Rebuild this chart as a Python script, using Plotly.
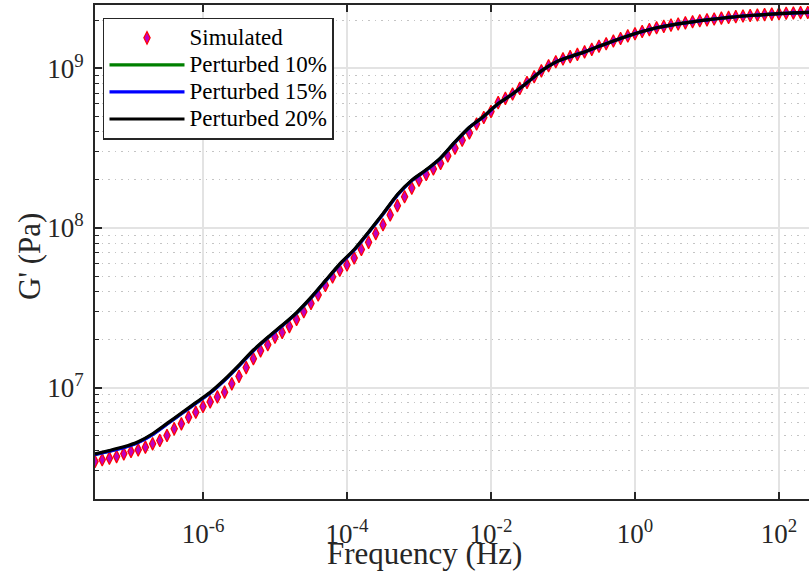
import numpy as np
import plotly.graph_objects as go

# ---------------- data ----------------
# log10 of frequency (Hz) for the simulated points
sim_log_f = [
    -7.5, -7.4, -7.3, -7.2, -7.1, -7.0, -6.9, -6.8, -6.7, -6.6,
    -6.5, -6.4, -6.3, -6.2, -6.1, -6.0, -5.9, -5.8, -5.7, -5.6,
    -5.5, -5.4, -5.3, -5.2, -5.1, -5.0, -4.9, -4.8, -4.7, -4.6,
    -4.5, -4.4, -4.3, -4.2, -4.1, -4.0, -3.9, -3.8, -3.7, -3.6,
    -3.5, -3.4, -3.3, -3.2, -3.1, -3.0, -2.9, -2.8, -2.7, -2.6,
    -2.5, -2.4, -2.3, -2.2, -2.1, -2.0, -1.9, -1.8, -1.7, -1.6,
    -1.5, -1.4, -1.3, -1.2, -1.1, -1.0, -0.9, -0.8, -0.7, -0.6,
    -0.5, -0.4, -0.3, -0.2, -0.1, 0.0, 0.1, 0.2, 0.3, 0.4,
    0.5, 0.6, 0.7, 0.8, 0.9, 1.0, 1.1, 1.2, 1.3, 1.4,
    1.5, 1.6, 1.7, 1.8, 1.9, 2.0, 2.1, 2.2, 2.3, 2.4,
]
# log10 of simulated G' (Pa)
sim_log_G = [
    6.536, 6.547, 6.557, 6.567, 6.584, 6.599, 6.609, 6.626, 6.647, 6.668,
    6.699, 6.741, 6.772, 6.814, 6.845, 6.881, 6.910, 6.941, 6.971, 7.023,
    7.070, 7.125, 7.180, 7.230, 7.268, 7.316, 7.345, 7.382, 7.427, 7.475,
    7.527, 7.580, 7.640, 7.693, 7.735, 7.768, 7.812, 7.865, 7.910, 7.965,
    8.020, 8.082, 8.140, 8.196, 8.250, 8.300, 8.335, 8.370, 8.405, 8.452,
    8.500, 8.550, 8.596, 8.652, 8.693, 8.730, 8.786, 8.813, 8.840, 8.875,
    8.912, 8.948, 8.985, 9.017, 9.042, 9.060, 9.074, 9.088, 9.104, 9.120,
    9.139, 9.155, 9.172, 9.188, 9.204, 9.218, 9.232, 9.244, 9.255, 9.264,
    9.272, 9.279, 9.286, 9.293, 9.299, 9.305, 9.310, 9.316, 9.320, 9.325,
    9.329, 9.332, 9.335, 9.338, 9.341, 9.344, 9.346, 9.348, 9.350, 9.351,
]

# log10 of frequency (Hz) for the perturbed curves
pert_log_f = [
    -7.5, -7.3, -7.1, -6.9, -6.7, -6.5, -6.3, -6.1, -5.9, -5.7,
    -5.5, -5.3, -5.1, -4.9, -4.7, -4.5, -4.3, -4.1, -3.9, -3.7,
    -3.5, -3.3, -3.1, -2.9, -2.7, -2.5, -2.3, -2.1, -1.9, -1.7,
    -1.5, -1.3, -1.1, -0.9, -0.7, -0.5, -0.3, -0.1, 0.1, 0.3,
    0.5, 0.7, 0.9, 1.1, 1.3, 1.5, 1.7, 1.9, 2.1, 2.3, 2.5,
]
p10_log_G = [
    6.580, 6.601, 6.624, 6.656, 6.706, 6.771, 6.836, 6.901, 6.966, 7.046,
    7.136, 7.231, 7.312, 7.387, 7.467, 7.562, 7.667, 7.772, 7.862, 7.972,
    8.087, 8.207, 8.298, 8.363, 8.438, 8.538, 8.630, 8.699, 8.779, 8.840,
    8.910, 8.985, 9.040, 9.074, 9.104, 9.139, 9.172, 9.204, 9.232, 9.255,
    9.272, 9.286, 9.299, 9.310, 9.320, 9.329, 9.335, 9.341, 9.346, 9.350, 9.352,
]
p15_log_G = [
    6.579, 6.600, 6.623, 6.655, 6.705, 6.770, 6.835, 6.900, 6.965, 7.045,
    7.135, 7.230, 7.311, 7.386, 7.466, 7.561, 7.666, 7.771, 7.861, 7.971,
    8.086, 8.206, 8.297, 8.362, 8.437, 8.537, 8.630, 8.699, 8.779, 8.840,
    8.910, 8.985, 9.040, 9.074, 9.104, 9.139, 9.172, 9.204, 9.232, 9.255,
    9.272, 9.286, 9.299, 9.310, 9.320, 9.329, 9.335, 9.341, 9.346, 9.350, 9.352,
]
p20_log_G = [
    6.584, 6.605, 6.628, 6.660, 6.710, 6.775, 6.840, 6.905, 6.970, 7.050,
    7.140, 7.235, 7.315, 7.390, 7.470, 7.565, 7.670, 7.775, 7.865, 7.975,
    8.090, 8.210, 8.300, 8.365, 8.440, 8.540, 8.632, 8.700, 8.780, 8.840,
    8.910, 8.985, 9.040, 9.074, 9.104, 9.139, 9.172, 9.204, 9.232, 9.255,
    9.272, 9.286, 9.299, 9.310, 9.320, 9.329, 9.335, 9.341, 9.346, 9.350, 9.352,
]

x_tickvals = [1e-6, 1e-4, 1e-2, 1e0, 1e2]
x_ticktext = ["10<sup>-6</sup>", "10<sup>-4</sup>", "10<sup>-2</sup>",
              "10<sup>0</sup>", "10<sup>2</sup>"]
y_tickvals = [1e7, 1e8, 1e9]
y_ticktext = ["10<sup>7</sup>", "10<sup>8</sup>", "10<sup>9</sup>"]

legend_names = ["Simulated", "Perturbed 10%", "Perturbed 15%", "Perturbed 20%"]

# ---------------- figure ----------------
sim_f = 10 ** np.array(sim_log_f)
sim_G = 10 ** np.array(sim_log_G)
pert_f = 10 ** np.array(pert_log_f)

FONT = "Liberation Serif"
DARK = "#262626"
LEG_TXT = '<span style="font-size:23px">{}</span>'

fig = go.Figure()
fig.add_trace(go.Scatter(
    x=sim_f, y=sim_G, mode="markers", name=LEG_TXT.format(legend_names[0]),
    marker=dict(symbol="diamond-tall", size=9, color="#bf00bf",
                line=dict(color="#ff0000", width=1.2)),
))
for name, vals, col in [(legend_names[1], p10_log_G, "#008000"),
                        (legend_names[2], p15_log_G, "#0000ff"),
                        (legend_names[3], p20_log_G, "#000000")]:
    fig.add_trace(go.Scatter(
        x=pert_f, y=10 ** np.array(vals), mode="lines",
        name=LEG_TXT.format(name),
        line=dict(color=col, width=3.2, shape="spline", smoothing=0.6),
    ))

y_minor = [m * 10 ** e for e in (6, 7, 8, 9) for m in range(2, 10)
           if 2e6 <= m * 10 ** e <= 2.5e9]

fig.update_layout(
    width=809, height=571,
    margin=dict(l=95, r=0, t=5, b=72),
    paper_bgcolor="white", plot_bgcolor="white",
    font=dict(family=FONT, color=DARK, size=27),
    showlegend=True,
    legend=dict(
        x=0.0112, y=0.974, xanchor="left", yanchor="top",
        bgcolor="white", bordercolor=DARK, borderwidth=1.5,
        font=dict(family=FONT, size=18.5, color="black"),
        itemwidth=75, tracegroupgap=0,
    ),
    xaxis=dict(
        type="log", range=[-7.5, 2.417],
        tickmode="array", tickvals=x_tickvals, ticktext=x_ticktext,
        ticks="inside", ticklen=7, tickwidth=1.5, tickcolor=DARK,
        showline=True, linecolor=DARK, linewidth=2, mirror="ticks",
        showgrid=True, gridcolor="#e3e3e3", gridwidth=1.5,
        tickfont=dict(family=FONT, size=27, color=DARK),
        ticklabelstandoff=10,
        zeroline=False,
    ),
    yaxis=dict(
        type="log", range=[np.log10(2e6), np.log10(2.5e9)],
        tickmode="array", tickvals=y_tickvals, ticktext=y_ticktext,
        ticks="inside", ticklen=7, tickwidth=1.5, tickcolor=DARK,
        showline=True, linecolor=DARK, linewidth=2, mirror=False,
        showgrid=True, gridcolor="#e3e3e3", gridwidth=1.5,
        tickfont=dict(family=FONT, size=27, color=DARK),
        ticklabelstandoff=4,
        minor=dict(tickmode="array", tickvals=y_minor, ticks="inside",
                   ticklen=4, tickwidth=1.2, tickcolor=DARK,
                   showgrid=True, gridcolor="#c4c4c4", gridwidth=1.4,
                   griddash="1.5px,5px"),
        zeroline=False,
    ),
    annotations=[
        dict(text="Frequency (Hz)", xref="paper", yref="paper",
             x=(424 - 95) / 714, y=-(553 - 499) / 494,
             xanchor="center", yanchor="middle", showarrow=False,
             font=dict(family=FONT, size=31, color=DARK)),
        dict(text="G' (Pa)", xref="paper", yref="paper",
             x=-(95 - 29) / 714, y=1 - (257 - 5) / 494, textangle=-90,
             xanchor="center", yanchor="middle", showarrow=False,
             font=dict(family=FONT, size=31, color=DARK)),
    ],
)

fig.write_html("out.html")
